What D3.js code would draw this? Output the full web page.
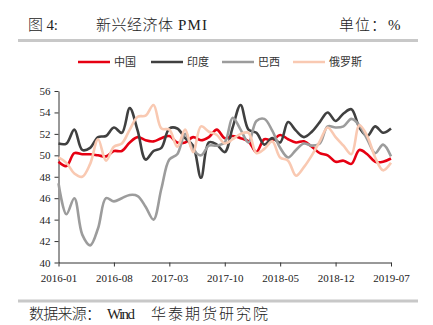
<!DOCTYPE html>
<html><head><meta charset="utf-8">
<script src="https://cdn.jsdelivr.net/npm/d3@7"></script>
<style>body{margin:0;background:#fff}svg{display:block}</style>
</head><body>
<svg id="c" width="433" height="325"></svg>
<script>
const months = [];
for (let y = 2016; y <= 2019; y++) for (let m = 1; m <= 12; m++) { if (y === 2019 && m > 7) break; months.push(y + "-" + String(m).padStart(2, "0")); }
const tickLabels = ["2016-01","2016-08","2017-03","2017-10","2018-05","2018-12","2019-07"];
const yTicks = [40,42,44,46,48,50,52,54,56];
const seriesNames = ["中国","印度","巴西","俄罗斯"];
const china = [49.4,49.0,50.2,50.1,50.1,50.0,49.9,50.4,50.4,51.2,51.7,51.4,51.3,51.6,51.8,51.2,51.2,51.7,51.4,51.7,52.4,51.6,51.8,51.6,51.3,50.3,51.5,51.4,51.9,51.5,51.2,51.3,50.8,50.2,50.0,49.4,49.5,49.2,50.5,50.1,49.4,49.4,49.7];
const india = [51.1,51.1,52.4,50.5,50.7,51.7,51.8,52.6,52.1,54.4,52.3,49.6,50.4,50.7,52.5,52.5,51.6,50.9,47.9,51.2,51.0,50.3,52.6,54.7,52.4,52.1,51.0,51.6,51.2,53.1,52.3,51.7,52.2,53.1,54.0,53.2,53.9,54.3,52.6,51.8,52.7,52.1,52.5];
const brazil = [47.4,44.5,46.0,42.6,41.6,43.2,46.0,45.7,46.0,46.3,46.2,45.2,44.0,46.9,49.6,50.1,52.0,50.5,50.0,50.9,50.9,51.2,53.5,52.4,51.2,53.2,53.4,52.3,50.7,49.8,50.5,51.1,50.9,51.1,52.7,52.6,52.7,53.4,52.8,51.5,50.2,51.0,49.9];
const russia = [49.8,49.3,48.3,48.0,49.2,51.5,49.5,50.8,51.1,52.4,53.6,53.7,54.7,52.5,52.4,50.8,52.4,50.3,52.7,52.2,51.9,51.1,51.5,52.0,52.1,50.2,50.6,51.3,49.8,49.5,48.1,48.9,50.0,51.3,52.6,51.7,50.9,50.1,52.8,51.8,49.8,48.6,49.3];
const colors = ["#e60012","#404040","#9c9c9c","#f9c9b2"];
const data = [china, india, brazil, russia];

const svg = d3.select("#c");
const serif = "'Liberation Serif','Times New Roman','Noto Sans CJK SC',serif";
const x = d3.scalePoint().domain(months).range([58.5, 391]);
const y = d3.scaleLinear().domain([40, 56]).range([262.5, 91]);

function txt(t, xx, yy, fs, len, anchor) {
  const e = svg.append("text").attr("x", xx).attr("y", yy).attr("font-family", serif)
    .attr("font-size", fs).attr("fill", "#222").attr("font-weight", 300).text(t);
  if (len) e.attr("textLength", len).attr("lengthAdjust", "spacing");
  if (anchor) e.attr("text-anchor", anchor);
  return e;
}
// header
txt("图 4:", 28, 30, 15, 30);
txt("新兴经济体", 96, 30, 15, 77);
txt("PMI", 178, 30, 15, 29);
txt("单位：", 339, 30, 15, 47);
txt("%", 388, 30, 15, 10);
svg.append("rect").attr("x", 18).attr("y", 39).attr("width", 400).attr("height", 3).attr("fill", "#c8c8c8");
svg.append("rect").attr("x", 18).attr("y", 299.5).attr("width", 400).attr("height", 3).attr("fill", "#c8c8c8");
txt("数据来源：", 29, 319, 15, 72);
txt("Wind", 107, 319, 15, 28);
txt("华泰期货研究院", 151, 319, 15, 117);

// legend
const legX = [78, 151, 222, 293];
seriesNames.forEach((n, i) => {
  svg.append("line").attr("x1", legX[i]).attr("x2", legX[i] + 32).attr("y1", 62).attr("y2", 62).attr("stroke", colors[i]).attr("stroke-width", 2.5);
  svg.append("text").attr("x", legX[i] + 36).attr("y", 66).attr("font-family", serif).attr("font-size", 11).attr("fill", "#333").text(n);
});

// axes
const yAxis = d3.axisLeft(y).tickValues(yTicks).tickSize(4).tickSizeOuter(0);
const gy = svg.append("g").attr("transform", "translate(58.5,0)").call(yAxis);
const xAxis = d3.axisBottom(x).tickValues(tickLabels).tickSize(4).tickSizeOuter(0);
const gx = svg.append("g").attr("transform", "translate(0,262.5)").call(xAxis);
[gx, gy].forEach(g => {
  g.selectAll("path,line").attr("stroke", "#333").attr("stroke-width", 1);
  g.selectAll("text").attr("font-family", serif).attr("font-size", 11).attr("fill", "#222");
});
gy.selectAll("text").attr("x", -8);
gx.selectAll("text").attr("dy", "1.1em");

// lines
const line = d3.line().x((d, i) => x(months[i])).y(d => y(d)).curve(d3.curveCatmullRom.alpha(0.5));
data.forEach((s, i) => {
  svg.append("path").datum(s).attr("d", line).attr("fill", "none").attr("stroke", colors[i]).attr("stroke-width", 2.6).attr("stroke-linejoin", "round");
});
</script>
</body></html>
